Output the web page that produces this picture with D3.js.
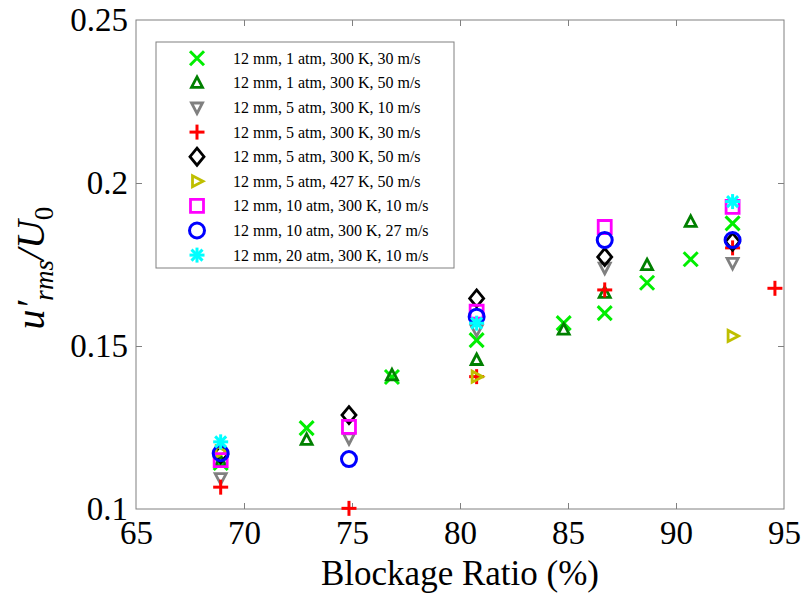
<!DOCTYPE html>
<html>
<head>
<meta charset="utf-8">
<script src="https://cdn.jsdelivr.net/npm/d3@7"></script>
<style>
  body { margin: 0; background: #fff; }
  svg { display: block; }
  svg text { font-family: "Liberation Serif", Tinos, "Times New Roman", Times, "DejaVu Serif", serif; }
</style>
</head>
<body>
<svg id="chart" width="804" height="596"></svg>
<script>
// Dados: razão de bloqueio (%) e u'rms/U0 por série
const legendLabels = [
    '12 mm, 1 atm, 300 K, 30 m/s',
    '12 mm, 1 atm, 300 K, 50 m/s',
    '12 mm, 5 atm, 300 K, 10 m/s',
    '12 mm, 5 atm, 300 K, 30 m/s',
    '12 mm, 5 atm, 300 K, 50 m/s',
    '12 mm, 5 atm, 427 K, 50 m/s',
    '12 mm, 10 atm, 300 K, 10 m/s',
    '12 mm, 10 atm, 300 K, 27 m/s',
    '12 mm, 20 atm, 300 K, 10 m/s'
];
const markers = ['x', 'tri-up', 'tri-down', 'plus', 'diamond', 'tri-right', 'square', 'circle', 'star'];
const colors = ['#00ee00', '#008000', '#808080', '#ff0000', '#000000', '#bfbf00', '#ff00ff', '#0000ff', '#00ffff'];

const br1 = [68.92, 72.9, 76.85, 80.77, 84.8, 86.7, 88.66, 90.68, 92.62];
const u1 = [0.1141, 0.1248, 0.1405, 0.1518, 0.1570, 0.1601, 0.1694, 0.1766, 0.1876];
const br2 = [68.92, 72.9, 76.85, 80.77, 84.8, 86.7, 88.66, 90.68];
const u2 = [0.1145, 0.1212, 0.1410, 0.1457, 0.1550, 0.1663, 0.1748, 0.1881];
const br3 = [68.92, 74.86, 80.77, 86.7, 92.62];
const u3 = [0.1095, 0.1217, 0.1549, 0.1740, 0.1755];
const br4 = [68.92, 74.86, 80.77, 86.7, 92.62, 94.58];
const u4 = [0.1067, 0.1002, 0.1406, 0.1672, 0.1801, 0.1677];
const br5 = [68.92, 74.86, 80.77, 86.7, 92.62];
const u5 = [0.1168, 0.1288, 0.1646, 0.1773, 0.1820];
const br6 = [68.92, 80.77, 92.62];
const u6 = [0.1176, 0.1406, 0.1531];
const br7 = [68.92, 74.86, 80.77, 86.7, 92.62];
const u7 = [0.1150, 0.1252, 0.1605, 0.1865, 0.1927];
const br8 = [68.92, 74.86, 80.77, 86.7, 92.62];
const u8 = [0.1171, 0.1153, 0.1590, 0.1825, 0.1825];
const br9 = [68.92, 80.77, 92.62];
const u9 = [0.1206, 0.1570, 0.1943];

const seriesX = [br1, br2, br3, br4, br5, br6, br7, br8, br9];
const seriesY = [u1, u2, u3, u4, u5, u6, u7, u8, u9];

const xTicks = [65, 70, 75, 80, 85, 90, 95];
const yTicks = [0.1, 0.15, 0.2, 0.25];

// =========================================
// LAYOUT
// =========================================
const svg = d3.select('#chart');
const L = 136, R = 784, T = 20, B = 509;
const x = d3.scaleLinear().domain([65, 95]).range([L, R]);
const y = d3.scaleLinear().domain([0.1, 0.25]).range([B, T]);
const axisColor = '#808080';

// caixa do gráfico
svg.append('rect')
    .attr('x', L).attr('y', T)
    .attr('width', R - L).attr('height', B - T)
    .attr('fill', 'none')
    .attr('stroke', axisColor)
    .attr('stroke-width', 1);

// eixos (ticks para dentro, sem linha de domínio)
const tickLen = 6;
const styleAxis = g => {
    g.attr('font-family', null).attr('font-size', null);
    g.select('.domain').remove();
    g.selectAll('.tick line').attr('stroke', axisColor);
    g.selectAll('.tick text')
        .attr('fill', '#000')
        .style('font-size', '33px');
};

svg.append('g')
    .attr('transform', `translate(0,${B})`)
    .call(d3.axisBottom(x).tickValues(xTicks).tickFormat(d3.format('d')).tickSize(-tickLen).tickPadding(9))
    .call(styleAxis)
    .call(g => g.selectAll('.tick text').attr('dy', '0.78em'));

svg.append('g')
    .attr('transform', `translate(0,${T})`)
    .call(d3.axisTop(x).tickValues(xTicks).tickSize(-tickLen).tickFormat(''))
    .call(styleAxis);

svg.append('g')
    .attr('transform', `translate(${L},0)`)
    .call(d3.axisLeft(y).tickValues(yTicks).tickFormat(d => String(+d.toFixed(2))).tickSize(-tickLen).tickPadding(8))
    .call(styleAxis);

svg.append('g')
    .attr('transform', `translate(${R},0)`)
    .call(d3.axisRight(y).tickValues(yTicks).tickSize(-tickLen).tickFormat(''))
    .call(styleAxis);

// remove ticks nos cantos
svg.selectAll('.tick line').filter(function () {
    const d = d3.select(this.parentNode).datum();
    return d === 65 || d === 95 || d === 0.1 || d === 0.25;
}).remove();

// rótulos dos eixos
svg.append('text')
    .attr('x', 460).attr('y', 585)
    .attr('text-anchor', 'middle')
    .style('font-size', '35px')
    .text('Blockage Ratio (%)');

const yl = svg.append('text')
    .attr('transform', 'translate(44,268) rotate(-90)')
    .attr('text-anchor', 'middle')
    .style('font-size', '40px')
    .style('font-style', 'italic');
yl.append('tspan').text('u\u2032');
yl.append('tspan').attr('dy', 9).style('font-size', '27px').text('rms');
yl.append('tspan').attr('dy', -9).text('/U');
yl.append('tspan').attr('dy', 9).style('font-size', '27px').style('font-style', 'normal').text('0');

// =========================================
// MARCADORES
// =========================================
function drawMarker(g, type, color) {
    const sw = 3;
    const line = (x1, y1, x2, y2) => g.append('line')
        .attr('x1', x1).attr('y1', y1).attr('x2', x2).attr('y2', y2)
        .attr('stroke', color).attr('stroke-width', sw);
    const poly = pts => g.append('polygon')
        .attr('points', pts.map(p => p.join(',')).join(' '))
        .attr('fill', 'none').attr('stroke', color)
        .attr('stroke-width', 2.8).attr('stroke-linejoin', 'miter');
    switch (type) {
        case 'x': line(-7, -7, 7, 7); line(-7, 7, 7, -7); break;
        case 'plus': line(-7.5, 0, 7.5, 0); line(0, -7.5, 0, 7.5); break;
        case 'star':
            line(-7.5, 0, 7.5, 0); line(0, -7.5, 0, 7.5);
            line(-5.5, -5.5, 5.5, 5.5); line(-5.5, 5.5, 5.5, -5.5); break;
        case 'tri-up': poly([[0, -6], [5.5, 4.5], [-5.5, 4.5]]); break;
        case 'tri-down': poly([[0, 6], [5.5, -4.5], [-5.5, -4.5]]); break;
        case 'tri-right': poly([[6, 0], [-4.5, -5.5], [-4.5, 5.5]]); break;
        case 'diamond': poly([[0, -8.5], [7, 0], [0, 8.5], [-7, 0]]); break;
        case 'square': poly([[-6.5, -6.5], [6.5, -6.5], [6.5, 6.5], [-6.5, 6.5]]); break;
        case 'circle':
            g.append('circle').attr('r', 7.5).attr('fill', 'none')
                .attr('stroke', color).attr('stroke-width', 3); break;
    }
}

const plotG = svg.append('g');
seriesX.forEach((xs, i) => {
    const pts = xs.map((v, j) => [v, seriesY[i][j]]);
    plotG.selectAll(`.s${i}`)
        .data(pts)
        .enter().append('g')
        .attr('class', `s${i}`)
        .attr('transform', d => `translate(${x(d[0])},${y(d[1])})`)
        .each(function () { drawMarker(d3.select(this), markers[i], colors[i]); });
});

// =========================================
// LEGENDA
// =========================================
const legG = svg.append('g');
legG.append('rect')
    .attr('x', 156).attr('y', 42)
    .attr('width', 298).attr('height', 226)
    .attr('fill', '#fff')
    .attr('stroke', axisColor);

legendLabels.forEach((lab, i) => {
    const cy = 58.3 + i * 24.6;
    const g = legG.append('g').attr('transform', `translate(197,${cy})`);
    drawMarker(g, markers[i], colors[i]);
    legG.append('text')
        .attr('x', 233).attr('y', cy + 5.5)
        .style('font-size', '16px')
        .text(lab);
});
</script>
</body>
</html>
